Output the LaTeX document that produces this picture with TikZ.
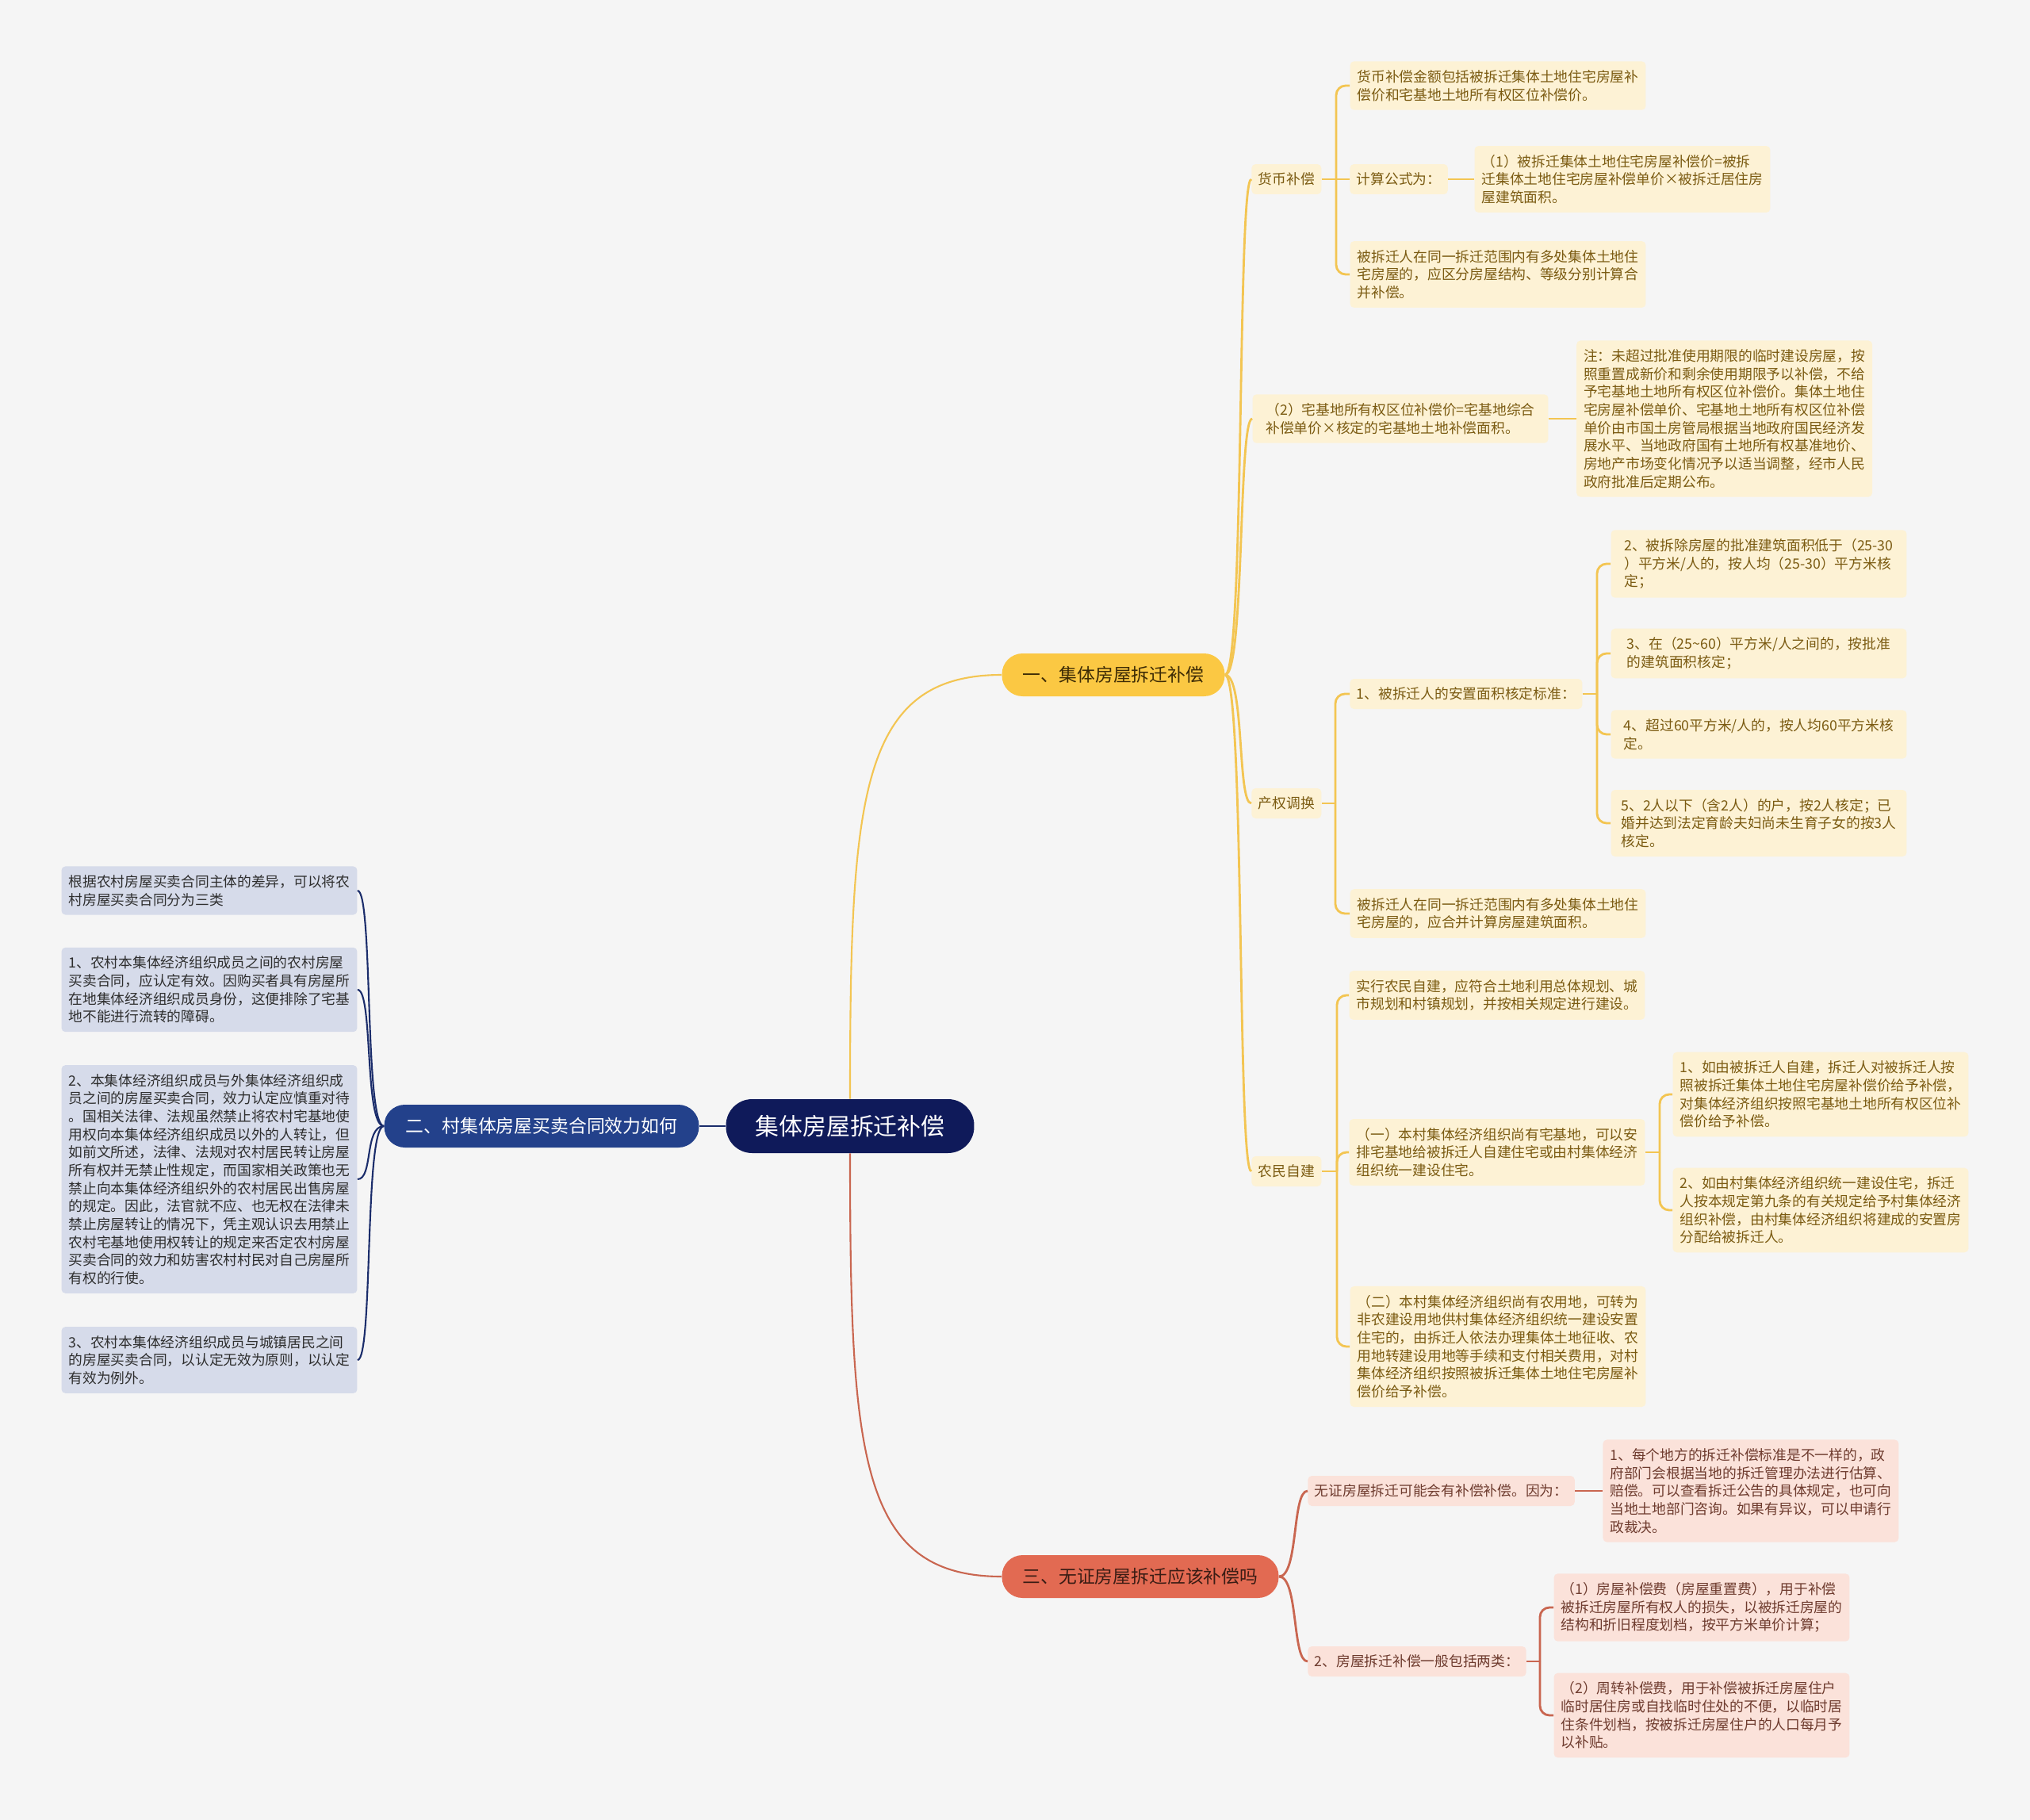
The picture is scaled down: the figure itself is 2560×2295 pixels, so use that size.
\documentclass[tikz,border=0pt]{standalone}
\usepackage{fontspec}
\setmainfont{Noto Sans CJK SC}
\setsansfont{Noto Sans CJK SC}
\usetikzlibrary{positioning}
\usepackage{xcolor}
\definecolor{bgGray}{HTML}{F5F5F5}
\definecolor{rootNavy}{HTML}{0F1A5A}
\definecolor{bNavy}{HTML}{23418B}
\definecolor{bYellow}{HTML}{FBC843}
\definecolor{bCoral}{HTML}{E26A52}
\definecolor{lYellow}{HTML}{FDF2D5}
\definecolor{lPink}{HTML}{FBE2DA}
\definecolor{lBlue}{HTML}{D6DBEA}
\definecolor{tYellow}{HTML}{7B5B12}
\definecolor{tPink}{HTML}{6E3B2E}
\definecolor{tBlue}{HTML}{2E2E2E}
\definecolor{tYellowDark}{HTML}{3D2B05}
\definecolor{tCoralDark}{HTML}{3A1C14}
\definecolor{lnYellow}{HTML}{F3C552}
\definecolor{lnCoral}{HTML}{C96650}
\definecolor{lnNavy}{HTML}{1B2D6B}
\newcommand{\leaffont}{\sffamily\fontsize{10.1pt}{12.9pt}\selectfont}
\tikzset{
    font=\sffamily,
    x=0.02cm, y=-0.02cm,
    % Shapes
    rootbox/.style={rectangle, rounded corners=0.66cm, fill=rootNavy, text=white,
                    minimum width=6.26cm, minimum height=1.36cm,
                    font=\sffamily\fontsize{17pt}{20pt}\selectfont},
    branchbox/.style={rectangle, rounded corners=0.52cm, minimum height=1.08cm,
                      font=\sffamily\fontsize{13pt}{15pt}\selectfont},
    leaf/.style={rectangle, rounded corners=0.1cm, align=left, minimum width=7.46cm,
                 inner xsep=0.17cm, inner ysep=0.22cm, font=\leaffont},
    tag/.style={leaf, minimum width=0pt, minimum height=0.76cm, inner ysep=0.1cm},
    leafY/.style={leaf, fill=lYellow, text=tYellow},
    leafP/.style={leaf, fill=lPink, text=tPink},
    leafB/.style={leaf, fill=lBlue, text=tBlue},
    tagY/.style={tag, fill=lYellow, text=tYellow},
    tagP/.style={tag, fill=lPink, text=tPink},
    % Lines
    lnY/.style={draw=lnYellow, line width=1.6pt},
    lnP/.style={draw=lnCoral, line width=1.6pt},
    lnB/.style={draw=lnNavy, line width=1.2pt},
    brY/.style={lnY, rounded corners=0.24cm},
    brP/.style={lnP, rounded corners=0.24cm}
}
\begin{document}
\begin{tikzpicture}
\fill[bgGray] (0,0) rectangle (2560,2295);

% root and main branches
\node[rootbox] (root) at (1072,1420) {集体房屋拆迁补偿};
\node[branchbox, fill=bNavy, text=white, minimum width=7.94cm] (b2) at (683,1420) {二、村集体房屋买卖合同效力如何};
\node[branchbox, fill=bYellow, text=tYellowDark, minimum width=5.62cm] (b1) at (1404,851) {一、集体房屋拆迁补偿};
\node[branchbox, fill=bCoral, text=tCoralDark, minimum width=6.98cm] (b3) at (1438,1988) {三、无证房屋拆迁应该补偿吗};

% 货币补偿
\node[tagY, anchor=west] (hb) at (1578,226) {货币补偿};
\node[leafY] (hb1) at (1889,108) {货币补偿金额包括被拆迁集体土地住宅房屋补\\偿价和宅基地土地所有权区位补偿价。};
\node[tagY, anchor=west] (hbf) at (1702,226) {计算公式为：};
\node[leafY, right=0.66cm of hbf] (hbf1) {（1）被拆迁集体土地住宅房屋补偿价=被拆\\迁集体土地住宅房屋补偿单价×被拆迁居住房\\屋建筑面积。};
\node[leafY] (hb2) at (1889,346) {被拆迁人在同一拆迁范围内有多处集体土地住\\宅房屋的，应区分房屋结构、等级分别计算合\\并补偿。};

% 宅基地区位补偿
\node[leafY] (zj) at (1766,528) {（2）宅基地所有权区位补偿价=宅基地综合\\补偿单价×核定的宅基地土地补偿面积。};
\node[leafY, right=0.7cm of zj] (zj1) {注：未超过批准使用期限的临时建设房屋，按\\照重置成新价和剩余使用期限予以补偿，不给\\予宅基地土地所有权区位补偿价。集体土地住\\宅房屋补偿单价、宅基地土地所有权区位补偿\\单价由市国土房管局根据当地政府国民经济发\\展水平、当地政府国有土地所有权基准地价、\\房地产市场变化情况予以适当调整，经市人民\\政府批准后定期公布。};

% 产权调换
\node[tagY, anchor=west] (cq) at (1578,1013) {产权调换};
\node[tagY, anchor=west] (cq1) at (1702,875) {1、被拆迁人的安置面积核定标准：};
\node[leafY] (cq11) at (2218,711) {2、被拆除房屋的批准建筑面积低于（25-30\\）平方米/人的，按人均（25-30）平方米核\\定；};
\node[leafY] (cq12) at (2218,824) {3、在（25\textasciitilde 60）平方米/人之间的，按批准\\的建筑面积核定；};
\node[leafY] (cq13) at (2218,926) {4、超过60平方米/人的，按人均60平方米核\\定。};
\node[leafY] (cq14) at (2218,1038) {5、2人以下（含2人）的户，按2人核定；已\\婚并达到法定育龄夫妇尚未生育子女的按3人\\核定。};
\node[leafY] (cq2) at (1889,1152) {被拆迁人在同一拆迁范围内有多处集体土地住\\宅房屋的，应合并计算房屋建筑面积。};

% 农民自建
\node[tagY, anchor=west] (nm) at (1578,1477) {农民自建};
\node[leafY] (nm1) at (1888,1255) {实行农民自建，应符合土地利用总体规划、城\\市规划和村镇规划，并按相关规定进行建设。};
\node[leafY] (nm2) at (1888,1453) {（一）本村集体经济组织尚有宅基地，可以安\\排宅基地给被拆迁人自建住宅或由村集体经济\\组织统一建设住宅。};
\node[leafY] (nm21) at (2296,1380) {1、如由被拆迁人自建，拆迁人对被拆迁人按\\照被拆迁集体土地住宅房屋补偿价给予补偿，\\对集体经济组织按照宅基地土地所有权区位补\\偿价给予补偿。};
\node[leafY] (nm22) at (2296,1526) {2、如由村集体经济组织统一建设住宅，拆迁\\人按本规定第九条的有关规定给予村集体经济\\组织补偿，由村集体经济组织将建成的安置房\\分配给被拆迁人。};
\node[leafY] (nm3) at (1889,1698) {（二）本村集体经济组织尚有农用地，可转为\\非农建设用地供村集体经济组织统一建设安置\\住宅的，由拆迁人依法办理集体土地征收、农\\用地转建设用地等手续和支付相关费用，对村\\集体经济组织按照被拆迁集体土地住宅房屋补\\偿价给予补偿。};

% 无证房屋
\node[tagP, anchor=west] (wz1) at (1649,1880) {无证房屋拆迁可能会有补偿补偿。因为：};
\node[leafP, right=0.7cm of wz1] (wz11) {1、每个地方的拆迁补偿标准是不一样的，政\\府部门会根据当地的拆迁管理办法进行估算、\\赔偿。可以查看拆迁公告的具体规定，也可向\\当地土地部门咨询。如果有异议，可以申请行\\政裁决。};
\node[tagP, anchor=west] (wz2) at (1649,2095) {2、房屋拆迁补偿一般包括两类：};
\node[leafP] (wz21) at (2146,2027) {（1）房屋补偿费（房屋重置费），用于补偿\\被拆迁房屋所有权人的损失，以被拆迁房屋的\\结构和折旧程度划档，按平方米单价计算；};
\node[leafP] (wz22) at (2146,2163) {（2）周转补偿费，用于补偿被拆迁房屋住户\\临时居住房或自找临时住处的不便，以临时居\\住条件划档，按被拆迁房屋住户的人口每月予\\以补贴。};

% 买卖合同
\node[leafB] (cj1) at (264,1123) {根据农村房屋买卖合同主体的差异，可以将农\\村房屋买卖合同分为三类};
\node[leafB] (cj2) at (264,1248) {1、农村本集体经济组织成员之间的农村房屋\\买卖合同，应认定有效。因购买者具有房屋所\\在地集体经济组织成员身份，这便排除了宅基\\地不能进行流转的障碍。};
\node[leafB] (cj3) at (264,1487) {2、本集体经济组织成员与外集体经济组织成\\员之间的房屋买卖合同，效力认定应慎重对待\\。国相关法律、法规虽然禁止将农村宅基地使\\用权向本集体经济组织成员以外的人转让，但\\如前文所述，法律、法规对农村居民转让房屋\\所有权并无禁止性规定，而国家相关政策也无\\禁止向本集体经济组织外的农村居民出售房屋\\的规定。因此，法官就不应、也无权在法律未\\禁止房屋转让的情况下，凭主观认识去用禁止\\农村宅基地使用权转让的规定来否定农村房屋\\买卖合同的效力和妨害农村村民对自己房屋所\\有权的行使。};
\node[leafB] (cj4) at (264,1715) {3、农村本集体经济组织成员与城镇居民之间\\的房屋买卖合同，以认定无效为原则，以认定\\有效为例外。};

% root connectors
\draw[lnY, line width=1.2pt] (root.north) .. controls +(0,-380) and +(-180,0) .. (b1.west);
\draw[lnP, line width=1.2pt] (root.south) .. controls +(0,380) and +(-180,0) .. (b3.west);
\draw[lnB, line width=1.6pt] (root.west) -- (b2.east);

% branch one
\draw[lnY] (b1.east) .. controls +(25,0) and +(-18,0) .. (hb.west);
\draw[lnY] (b1.east) .. controls +(25,0) and +(-18,0) .. (zj.west);
\draw[lnY] (b1.east) .. controls +(25,0) and +(-18,0) .. (cq.west);
\draw[lnY] (b1.east) .. controls +(25,0) and +(-18,0) .. (nm.west);

\draw[lnY] (hb.east) -- (hbf.west);
\draw[brY] (1685,226) |- (hb1.west);
\draw[brY] (1685,226) |- (hb2.west);
\draw[lnY] (hbf.east) -- (hbf1.west);
\draw[lnY] (zj.east) -- (zj1.west);

\draw[lnY] (cq.east) -- (1684,1013);
\draw[brY] (1684,1013) |- (cq1.west);
\draw[brY] (1684,1013) |- (cq2.west);
\draw[lnY] (cq1.east) -- (2014,875);
\draw[brY] (2014,875) |- (cq11.west);
\draw[brY] (2014,875) |- (cq12.west);
\draw[brY] (2014,875) |- (cq13.west);
\draw[brY] (2014,875) |- (cq14.west);

\draw[lnY] (nm.east) -- (1686,1477);
\draw[brY] (1686,1477) |- (nm1.west);
\draw[brY] (1686,1477) |- (nm2.west);
\draw[brY] (1686,1477) |- (nm3.west);
\draw[lnY] (nm2.east) -- (2093,1453);
\draw[brY] (2093,1453) |- (nm21.west);
\draw[brY] (2093,1453) |- (nm22.west);

% branch three
\draw[lnP] (b3.east) .. controls +(25,0) and +(-20,0) .. (wz1.west);
\draw[lnP] (b3.east) .. controls +(25,0) and +(-20,0) .. (wz2.west);
\draw[lnP] (wz1.east) -- (wz11.west);
\draw[lnP] (wz2.east) -- (1942,2095);
\draw[brP] (1942,2095) |- (wz21.west);
\draw[brP] (1942,2095) |- (wz22.west);

% branch two
\draw[lnB] (b2.west) .. controls +(-25,0) and +(20,0) .. (cj1.east);
\draw[lnB] (b2.west) .. controls +(-25,0) and +(20,0) .. (cj2.east);
\draw[lnB] (b2.west) .. controls +(-25,0) and +(20,0) .. (cj3.east);
\draw[lnB] (b2.west) .. controls +(-25,0) and +(20,0) .. (cj4.east);

\end{tikzpicture}
\end{document}
